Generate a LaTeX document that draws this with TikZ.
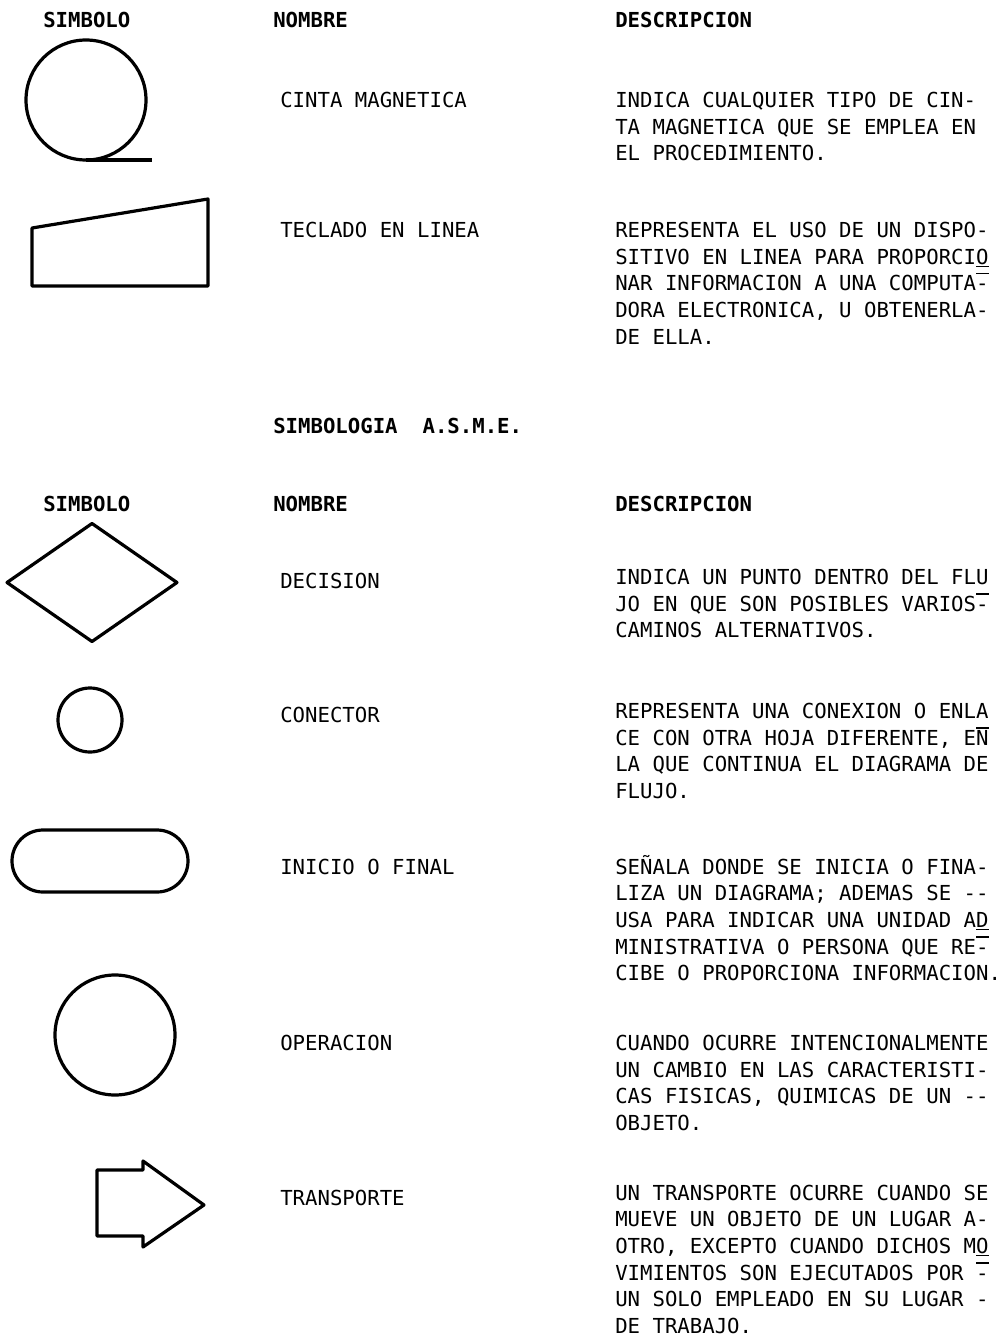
\documentclass[tikz,border=0pt]{standalone}
\usepackage{fontspec}
\setmonofont{DejaVu Sans Mono}
\usetikzlibrary{shapes.geometric,shapes.misc}

% bar typed over a character
\newcommand\barup[1]{\leavevmode\rlap{\raisebox{0.8em}{\rule{0.6em}{0.07em}}}#1}
% distance between two typed lines, in px
\newcommand\lnsep{26.7}

\begin{document}
\begin{tikzpicture}[x=0.75pt,y=-0.75pt,
    symb/.style={draw, line width=2.4pt, outer sep=0pt, inner sep=0pt},
    txt/.style={anchor=base west, inner sep=0pt, align=left,
                font=\ttfamily\fontsize{15.5}{20}\selectfont},
    head/.style={txt, font=\ttfamily\bfseries\fontsize{15.5}{20}\selectfont},
    line join=round]
\useasboundingbox (0,0) rectangle (1002,1338);

% first table
\node [head](h1) at (43,27.5) {SIMBOLO};
\node [head](h2) at (273,27.5) {NOMBRE};
\node [head](h3) at (615,27.5) {DESCRIPCION};

\node [symb, circle, minimum size=90pt](tape) at (86,100) {};
\coordinate (tapeend) at ([xshift=49.5pt]tape.south);
\draw [line width=2.4pt] (tape.south) -- (tapeend);
\node [txt](n1) at (280,107.5) {CINTA MAGNETICA};
% base of a multi-line node is its last line
\node [txt](d1) at (615,{107.5+2*\lnsep}) {INDICA CUALQUIER TIPO DE CIN-\\
TA MAGNETICA QUE SE EMPLEA EN\\
EL PROCEDIMIENTO.};

\draw [line width=2.4pt] (32,228) -- (208,199) -- (208,286) -- (32,286) -- cycle;
\node [txt](n2) at (280,237.5) {TECLADO EN LINEA};
\node [txt](d2) at (615,{237.5+4*\lnsep}) {REPRESENTA EL USO DE UN DISPO-\\
SITIVO EN LINEA PARA PROPORCI\underline{O}\\
NAR INFORMACION A UNA COMPUTA\barup{-}\\
DORA ELECTRONICA, U OBTENERLA-\\
DE ELLA.};

% A.S.M.E.
\node [head](t) at (273,433.5) {SIMBOLOGIA\ \ A.S.M.E.};
\node [head](g1) at (43,511.5) {SIMBOLO};
\node [head](g2) at (273,511.5) {NOMBRE};
\node [head](g3) at (615,511.5) {DESCRIPCION};

\node [symb, diamond, minimum width=127.5pt, minimum height=88.5pt](dec) at (92,582.5) {};
\node [txt](n3) at (280,588.5) {DECISION};
\node [txt](d3) at (615,{584.5+2*\lnsep}) {INDICA UN PUNTO DENTRO DEL FLU\\
JO EN QUE SON POSIBLES VARIOS\barup{-}\\
CAMINOS ALTERNATIVOS.};

\node [symb, circle, minimum size=48pt](conn) at (90,720) {};
\node [txt](n4) at (280,722.5) {CONECTOR};
\node [txt](d4) at (615,{718.5+3*\lnsep}) {REPRESENTA UNA CONEXION O ENLA\\
CE CON OTRA HOJA DIFERENTE, E\barup{N}\\
LA QUE CONTINUA EL DIAGRAMA DE\\
FLUJO.};

\node [symb, rounded rectangle, minimum width=132pt, minimum height=46.5pt](term) at (100,861) {};
\node [txt](n5) at (280,874) {INICIO O FINAL};
\node [txt](d5) at (615,{874+4*\lnsep}) {SEÑALA DONDE SE INICIA O FINA-\\
LIZA UN DIAGRAMA; ADEMAS SE --\\
USA PARA INDICAR UNA UNIDAD A\underline{D}\\
MINISTRATIVA O PERSONA QUE RE\barup{-}\\
CIBE O PROPORCIONA INFORMACION.};

\node [symb, circle, minimum size=90pt](oper) at (115,1035) {};
\node [txt](n6) at (280,1050.5) {OPERACION};
\node [txt](d6) at (615,{1050.5+3*\lnsep}) {CUANDO OCURRE INTENCIONALMENTE\\
UN CAMBIO EN LAS CARACTERISTI-\\
CAS FISICAS, QUIMICAS DE UN --\\
OBJETO.};

\draw [line width=2.4pt] (97,1170) -- (143,1170) -- (143,1161) -- (204,1205)
      -- (143,1247) -- (143,1236) -- (97,1236) -- cycle;
\node [txt](n7) at (280,1205.5) {TRANSPORTE};
\node [txt](d7) at (615,{1200+5*\lnsep}) {UN TRANSPORTE OCURRE CUANDO SE\\
MUEVE UN OBJETO DE UN LUGAR A-\\
OTRO, EXCEPTO CUANDO DICHOS M\underline{O}\\
VIMIENTOS SON EJECUTADOS POR \barup{-}\\
UN SOLO EMPLEADO EN SU LUGAR -\\
DE TRABAJO.};
\end{tikzpicture}
\end{document}
